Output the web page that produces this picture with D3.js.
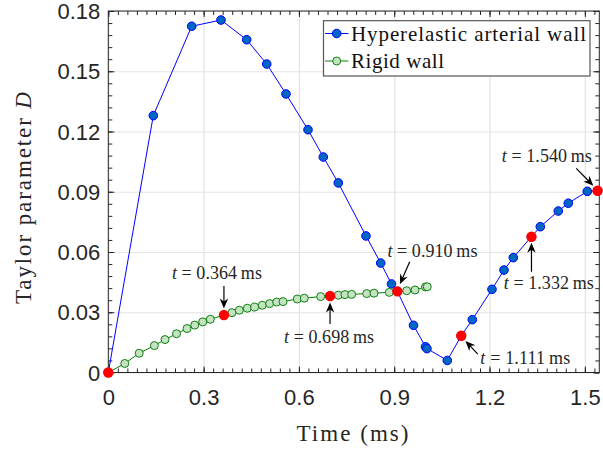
<!DOCTYPE html>
<html>
<head>
<meta charset="utf-8">
<script src="https://cdn.jsdelivr.net/npm/d3@7"></script>
<style>
	body { margin: 0; background: #fff; }
	svg { display: block; }
</style>
</head>
<body>
<svg width="603" height="453"></svg>
<script>
// hyperelastic wall (blue)
const blueT = [0, 0.1416, 0.2625, 0.3547, 0.4356, 0.4986, 0.5593, 0.6286, 0.6767, 0.7240, 0.8111, 0.8574, 0.8914, 0.910, 0.9607, 0.9984, 1.003, 1.067, 1.111, 1.1457, 1.2077, 1.2455, 1.2748, 1.332, 1.3598, 1.4164, 1.4479, 1.5077, 1.540];
const blueD = [0, 0.1279, 0.1724, 0.1755, 0.1657, 0.1536, 0.1387, 0.1209, 0.1073, 0.0944, 0.0680, 0.0545, 0.0441, 0.0404, 0.0235, 0.0128, 0.0119, 0.0060, 0.0183, 0.0263, 0.0414, 0.0510, 0.0572, 0.0676, 0.0726, 0.0804, 0.0843, 0.0902, 0.0905];

// rigid wall (green)
const greenT = [0, 0.0519, 0.0973, 0.1451, 0.1785, 0.2147, 0.2477, 0.2720, 0.2971, 0.3211, 0.364, 0.3894, 0.4123, 0.4375, 0.4608, 0.4847, 0.5080, 0.5301, 0.5499, 0.5949, 0.6169, 0.6686, 0.698, 0.7240, 0.7450, 0.7661, 0.8133, 0.8363, 0.8845, 0.910, 0.9393, 0.9654, 0.9984, 1.004];
const greenD = [0, 0.0045, 0.0096, 0.0134, 0.0164, 0.0193, 0.0219, 0.0236, 0.0252, 0.0265, 0.0286, 0.0298, 0.0310, 0.0320, 0.0326, 0.0335, 0.0343, 0.0351, 0.0353, 0.0366, 0.0370, 0.0378, 0.0381, 0.0385, 0.0388, 0.0389, 0.0393, 0.0395, 0.0399, 0.0403, 0.0407, 0.0411, 0.0426, 0.0427];

// highlighted instants (red)
const redT = [0, 0.364, 0.698, 0.910, 1.111, 1.332, 1.540];
const redD = [0, 0.0286, 0.0381, 0.0404, 0.0183, 0.0676, 0.0905];
const redLabels = ['', '0.364', '0.698', '0.910', '1.111', '1.332', '1.540'];

const xTicks = [0, 0.3, 0.6, 0.9, 1.2, 1.5];
const xTickLabels = ['0', '0.3', '0.6', '0.9', '1.2', '1.5'];
const yTicks = [0, 0.03, 0.06, 0.09, 0.12, 0.15, 0.18];
const yTickLabels = ['0', '0.03', '0.06', '0.09', '0.12', '0.15', '0.18'];

const seriesNames = ['Hyperelastic arterial wall', 'Rigid wall'];

const svg = d3.select('svg'),
	pLeft = 108.3, pRight = 599.3, pTop = 11, pBottom = 372.5,
	axisColor = '#262626',
	serif = '"Liberation Serif", "Times New Roman", serif',
	sans = '"Liberation Sans", Arial, sans-serif';

const x = d3.scaleLinear().domain([0, 1.5455]).range([pLeft, pRight]);
const y = d3.scaleLinear().domain([0, 0.18]).range([pBottom, pTop]);

// grid
svg.append('g')
	.attr('transform', `translate(0,${pBottom})`)
	.call(d3.axisBottom(x).tickValues(xTicks).tickSize(-(pBottom - pTop)).tickFormat(''))
	.call(g => g.select('.domain').remove())
	.selectAll('line').attr('stroke', '#e3e3e3').attr('stroke-width', 1.2);
svg.append('g')
	.attr('transform', `translate(${pLeft},0)`)
	.call(d3.axisLeft(y).tickValues(yTicks).tickSize(-(pRight - pLeft)).tickFormat(''))
	.call(g => g.select('.domain').remove())
	.selectAll('line').attr('stroke', '#e3e3e3').attr('stroke-width', 1.2);

// minor ticks on all four sides
const xMinor = d3.range(0, 1.546, 0.03);
const yMinor = d3.range(0, 0.1801, 0.006);
function ticks(axisFn, scale, vals, len, tx, ty) {
	svg.append('g')
		.attr('transform', `translate(${tx},${ty})`)
		.call(axisFn(scale).tickValues(vals).tickSizeInner(len).tickSizeOuter(0).tickFormat(''))
		.call(g => g.select('.domain').remove())
		.selectAll('line').attr('stroke', axisColor).attr('stroke-width', 1);
}
ticks(d3.axisBottom, x, xMinor, -4, 0, pBottom);
ticks(d3.axisTop, x, xMinor, -4, 0, pTop);
ticks(d3.axisLeft, y, yMinor, -4, pLeft, 0);
ticks(d3.axisRight, y, yMinor, -4, pRight, 0);
ticks(d3.axisBottom, x, xTicks, -6, 0, pBottom);
ticks(d3.axisTop, x, xTicks, -6, 0, pTop);
ticks(d3.axisLeft, y, yTicks, -6, pLeft, 0);
ticks(d3.axisRight, y, yTicks, -6, pRight, 0);

// frame
svg.append('rect')
	.attr('x', pLeft).attr('y', pTop)
	.attr('width', pRight - pLeft).attr('height', pBottom - pTop)
	.attr('fill', 'none').attr('stroke', axisColor).attr('stroke-width', 1);

// tick labels
svg.append('g')
	.attr('transform', `translate(0,${pBottom})`)
	.call(d3.axisBottom(x).tickValues(xTicks).tickSize(0).tickFormat((d, i) => xTickLabels[i]))
	.call(g => g.select('.domain').remove())
	.selectAll('text')
	.attr('y', 24.5).attr('dy', '0.35em')
	.attr('font-family', sans).attr('font-size', 22).attr('fill', axisColor);
svg.append('g')
	.attr('transform', `translate(${pLeft},0)`)
	.call(d3.axisLeft(y).tickValues(yTicks).tickSize(0).tickFormat((d, i) => yTickLabels[i]))
	.call(g => g.select('.domain').remove())
	.selectAll('text')
	.attr('x', -8).attr('dy', '0.35em')
	.attr('font-family', sans).attr('font-size', 22).attr('fill', axisColor);

// axis labels
svg.append('text')
	.attr('x', 352.5).attr('y', 441)
	.attr('text-anchor', 'middle')
	.attr('font-family', serif).attr('font-size', 23).attr('fill', axisColor)
	.attr('textLength', 112).attr('lengthAdjust', 'spacing')
	.text('Time (ms)');
let yl = svg.append('text')
	.attr('transform', 'translate(31,198) rotate(-90)')
	.attr('text-anchor', 'middle')
	.attr('font-family', serif).attr('font-size', 23).attr('fill', axisColor)
	.attr('textLength', 212).attr('lengthAdjust', 'spacing');
yl.append('tspan').text('Taylor parameter ');
yl.append('tspan').attr('font-style', 'italic').text('D');

// series
const blue = blueT.map((t, i) => ({t, d: blueD[i]}));
const green = greenT.map((t, i) => ({t, d: greenD[i]}));
const red = redT.map((t, i) => ({t, d: redD[i], label: redLabels[i]}));

const line = d3.line().x(p => x(p.t)).y(p => y(p.d));

svg.append('path').datum(blue)
	.attr('d', line).attr('fill', 'none').attr('stroke', '#0000ff').attr('stroke-width', 1);
svg.append('g').selectAll('circle').data(blue).enter().append('circle')
	.attr('cx', p => x(p.t)).attr('cy', p => y(p.d)).attr('r', 4.3)
	.attr('fill', '#0066c4').attr('stroke', '#0000ff').attr('stroke-width', 1);

svg.append('path').datum(green)
	.attr('d', line).attr('fill', 'none').attr('stroke', '#008000').attr('stroke-width', 1);
svg.append('g').selectAll('circle').data(green).enter().append('circle')
	.attr('cx', p => x(p.t)).attr('cy', p => y(p.d)).attr('r', 4)
	.attr('fill', '#c3e3c3').attr('stroke', '#108010').attr('stroke-width', 1);

svg.append('g').selectAll('circle').data(red).enter().append('circle')
	.attr('cx', p => x(p.t)).attr('cy', p => y(p.d)).attr('r', 5.2)
	.attr('fill', '#ff0000');

// annotations: text centre and arrow tail/tip as pixel offsets from the red point
const notes = [
	null,
	{tx: -7, ty: -42, ax: 0, ay: -29, bx: 0, by: -6.5},
	{tx: -1, ty: 41, ax: 0, ay: 28, bx: 0, by: 6.5},
	{tx: 35, ty: -40, ax: 12.3, ay: -29.6, bx: 2.5, by: -7},
	{tx: 64, ty: 22.6, ax: 16.5, ay: 18.3, bx: 4.2, by: 5.2},
	{tx: 17.3, ty: 46.6, ax: 0, ay: 35, bx: 0, by: 6},
	{tx: -50.7, ty: -34.7, ax: -21.3, ay: -22.4, bx: -4.2, by: -5}
];

red.forEach((p, i) => {
	const n = notes[i];
	if (!n) return;
	const px = x(p.t), py = y(p.d);
	const t = svg.append('text')
		.attr('x', px + n.tx).attr('y', py + n.ty + 6)
		.attr('text-anchor', 'middle')
		.attr('font-family', serif).attr('font-size', 18).attr('fill', axisColor)
		.attr('textLength', 90).attr('lengthAdjust', 'spacing');
	t.append('tspan').attr('font-style', 'italic').text('t');
	t.append('tspan').text(' = ' + p.label + '\u2009ms');

	// arrow
	const x1 = px + n.ax, y1 = py + n.ay, x2 = px + n.bx, y2 = py + n.by;
	const a = Math.atan2(y2 - y1, x2 - x1), hl = 10, hw = 4.2;
	const ux = Math.cos(a), uy = Math.sin(a);
	svg.append('line')
		.attr('x1', x1).attr('y1', y1).attr('x2', x2 - ux * 6).attr('y2', y2 - uy * 6)
		.attr('stroke', '#000').attr('stroke-width', 1.2);
	const bx = x2 - ux * hl, by = y2 - uy * hl;
	const head = [
		[x2, y2],
		[bx - uy * hw, by + ux * hw],
		[x2 - ux * hl * 0.7, y2 - uy * hl * 0.7],
		[bx + uy * hw, by - ux * hw]
	];
	svg.append('path')
		.attr('d', 'M' + head.map(q => q.join(',')).join('L') + 'Z')
		.attr('fill', '#000');
});

// legend
const lg = svg.append('g');
lg.append('rect')
	.attr('x', 323.5).attr('y', 20.7).attr('width', 266.5).attr('height', 55.3)
	.attr('fill', '#fff').attr('stroke', '#555').attr('stroke-width', 1.2);
const legendStyles = [
	{stroke: '#0000ff', fill: '#0066c4', r: 4.3, w: 235},
	{stroke: '#108010', fill: '#c3e3c3', r: 4, w: 93}
];
seriesNames.forEach((name, i) => {
	const ry = 33.5 + i * 27.5, s = legendStyles[i];
	lg.append('line').attr('x1', 325).attr('x2', 348.5).attr('y1', ry).attr('y2', ry)
		.attr('stroke', s.stroke).attr('stroke-width', 1);
	lg.append('circle').attr('cx', 336.7).attr('cy', ry).attr('r', s.r)
		.attr('fill', s.fill).attr('stroke', s.stroke).attr('stroke-width', 1);
	lg.append('text')
		.attr('x', 351).attr('y', ry + 7)
		.attr('font-family', serif).attr('font-size', 21).attr('fill', '#111')
		.attr('textLength', s.w).attr('lengthAdjust', 'spacing')
		.text(name);
});
</script>
</body>
</html>
